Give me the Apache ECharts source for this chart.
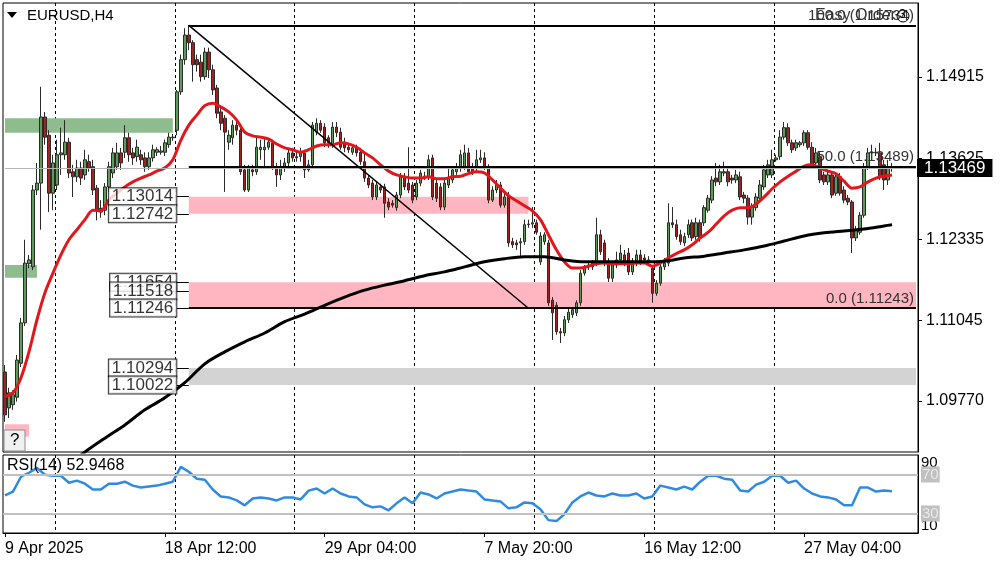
<!DOCTYPE html>
<html>
<head>
<meta charset="utf-8">
<title>EURUSD,H4</title>
<script src="https://cdn.jsdelivr.net/npm/echarts@6/dist/echarts.min.js"></script>
<style>
  html, body { margin: 0; padding: 0; background: #fff; }
  #chart { width: 1000px; height: 562px; }
</style>
</head>
<body>
<div id="chart"></div>
<script>
// H4 bars: [open, close, low, high]
const candles = [
  [1.1023,1.0955,1.0944,1.1034],[1.0966,1.0990,1.0950,1.0998],[1.0971,1.0987,1.0963,1.0994],[1.0983,1.1042,1.0976,1.1050],
  [1.1037,1.1101,1.1031,1.1109],[1.1101,1.1196,1.1096,1.1233],[1.1195,1.1201,1.1188,1.1209],[1.1190,1.1312,1.1185,1.1320],
  [1.1312,1.1323,1.1304,1.1355],[1.1323,1.1428,1.1249,1.1476],[1.1428,1.1396,1.1384,1.1436],[1.1399,1.1307,1.1277,1.1407],
  [1.1307,1.1355,1.1280,1.1368],[1.1320,1.1368,1.1312,1.1392],[1.1368,1.1371,1.1336,1.1411],[1.1368,1.1388,1.1360,1.1423],
  [1.1388,1.1339,1.1331,1.1395],[1.1341,1.1333,1.1301,1.1352],[1.1333,1.1347,1.1325,1.1360],[1.1347,1.1331,1.1320,1.1357],
  [1.1336,1.1360,1.1328,1.1376],[1.1357,1.1347,1.1341,1.1368],[1.1349,1.1312,1.1304,1.1360],[1.1315,1.1280,1.1264,1.1320],
  [1.1283,1.1277,1.1268,1.1296],[1.1280,1.1317,1.1272,1.1323],[1.1317,1.1349,1.1309,1.1357],[1.1339,1.1371,1.1331,1.1379],
  [1.1349,1.1371,1.1344,1.1387],[1.1371,1.1355,1.1344,1.1379],[1.1372,1.1395,1.1363,1.1415],[1.1395,1.1368,1.1357,1.1403],
  [1.1371,1.1363,1.1352,1.1379],[1.1365,1.1380,1.1357,1.1392],[1.1368,1.1360,1.1352,1.1376],[1.1363,1.1349,1.1341,1.1372],
  [1.1349,1.1363,1.1344,1.1372],[1.1363,1.1376,1.1357,1.1384],[1.1372,1.1376,1.1366,1.1380],[1.1372,1.1374,1.1368,1.1382],
  [1.1372,1.1387,1.1366,1.1392],[1.1384,1.1396,1.1379,1.1403],[1.1395,1.1396,1.1390,1.1401],[1.1407,1.1468,1.1399,1.1471],
  [1.1468,1.1519,1.1463,1.1527],[1.1519,1.1558,1.1511,1.1569],[1.1558,1.1546,1.1534,1.1574],[1.1546,1.1511,1.1484,1.1550],
  [1.1519,1.1511,1.1500,1.1527],[1.1515,1.1492,1.1484,1.1527],[1.1492,1.1531,1.1487,1.1538],[1.1531,1.1503,1.1490,1.1538],
  [1.1503,1.1471,1.1463,1.1511],[1.1474,1.1434,1.1426,1.1479],[1.1436,1.1418,1.1407,1.1442],[1.1426,1.1404,1.1309,1.1431],
  [1.1388,1.1399,1.1376,1.1407],[1.1395,1.1415,1.1384,1.1423],[1.1415,1.1407,1.1399,1.1426],[1.1407,1.1341,1.1336,1.1412],
  [1.1344,1.1312,1.1309,1.1352],[1.1312,1.1347,1.1309,1.1352],[1.1344,1.1341,1.1334,1.1352],[1.1341,1.1380,1.1336,1.1395],
  [1.1376,1.1380,1.1360,1.1392],[1.1376,1.1380,1.1349,1.1396],[1.1380,1.1388,1.1376,1.1395],[1.1387,1.1349,1.1344,1.1392],
  [1.1349,1.1336,1.1317,1.1355],[1.1336,1.1349,1.1328,1.1360],[1.1347,1.1355,1.1341,1.1363],[1.1355,1.1371,1.1349,1.1379],
  [1.1371,1.1363,1.1357,1.1379],[1.1365,1.1363,1.1357,1.1372],[1.1365,1.1372,1.1357,1.1379],[1.1371,1.1344,1.1331,1.1376],
  [1.1344,1.1352,1.1341,1.1360],[1.1352,1.1415,1.1347,1.1420],[1.1404,1.1418,1.1399,1.1426],[1.1418,1.1407,1.1403,1.1423],
  [1.1412,1.1387,1.1380,1.1418],[1.1395,1.1387,1.1379,1.1399],[1.1384,1.1412,1.1379,1.1420],[1.1412,1.1403,1.1396,1.1420],
  [1.1404,1.1380,1.1376,1.1411],[1.1388,1.1379,1.1372,1.1395],[1.1380,1.1376,1.1371,1.1387],[1.1372,1.1379,1.1368,1.1384],
  [1.1379,1.1371,1.1365,1.1384],[1.1372,1.1357,1.1352,1.1379],[1.1357,1.1331,1.1325,1.1372],[1.1331,1.1320,1.1315,1.1336],
  [1.1323,1.1301,1.1296,1.1328],[1.1301,1.1320,1.1296,1.1325],[1.1317,1.1312,1.1307,1.1322],[1.1317,1.1291,1.1268,1.1322],
  [1.1293,1.1285,1.1280,1.1299],[1.1291,1.1288,1.1284,1.1296],[1.1284,1.1304,1.1279,1.1309],[1.1304,1.1333,1.1299,1.1339],
  [1.1333,1.1317,1.1312,1.1339],[1.1323,1.1312,1.1307,1.1380],[1.1320,1.1296,1.1291,1.1325],[1.1301,1.1323,1.1296,1.1328],
  [1.1323,1.1339,1.1318,1.1344],[1.1333,1.1334,1.1328,1.1341],[1.1333,1.1360,1.1328,1.1368],[1.1363,1.1301,1.1296,1.1368],
  [1.1323,1.1299,1.1293,1.1328],[1.1317,1.1285,1.1280,1.1323],[1.1285,1.1323,1.1280,1.1328],[1.1320,1.1331,1.1315,1.1347],
  [1.1328,1.1344,1.1323,1.1349],[1.1341,1.1349,1.1336,1.1355],[1.1347,1.1368,1.1341,1.1376],[1.1349,1.1371,1.1344,1.1384],
  [1.1371,1.1341,1.1336,1.1379],[1.1349,1.1341,1.1336,1.1355],[1.1347,1.1360,1.1341,1.1376],[1.1360,1.1363,1.1355,1.1376],
  [1.1363,1.1349,1.1344,1.1372],[1.1349,1.1296,1.1291,1.1353],[1.1296,1.1312,1.1293,1.1318],[1.1312,1.1320,1.1307,1.1328],
  [1.1320,1.1288,1.1284,1.1325],[1.1288,1.1301,1.1284,1.1307],[1.1304,1.1228,1.1222,1.1309],[1.1230,1.1225,1.1220,1.1236],
  [1.1228,1.1225,1.1217,1.1233],[1.1228,1.1230,1.1206,1.1236],[1.1230,1.1257,1.1225,1.1265],[1.1257,1.1258,1.1252,1.1265],
  [1.1258,1.1260,1.1252,1.1285],[1.1260,1.1245,1.1241,1.1265],[1.1198,1.1239,1.1193,1.1245],[1.1230,1.1241,1.1225,1.1245],
  [1.1228,1.1133,1.1128,1.1233],[1.1137,1.1117,1.1074,1.1142],[1.1129,1.1087,1.1082,1.1134],[1.1087,1.1085,1.1069,1.1093],
  [1.1085,1.1106,1.1080,1.1112],[1.1106,1.1118,1.1101,1.1125],[1.1114,1.1122,1.1109,1.1126],[1.1117,1.1133,1.1112,1.1137],
  [1.1133,1.1180,1.1128,1.1185],[1.1180,1.1188,1.1176,1.1193],[1.1190,1.1193,1.1185,1.1198],[1.1190,1.1196,1.1185,1.1201],
  [1.1196,1.1241,1.1191,1.1268],[1.1241,1.1214,1.1209,1.1249],[1.1228,1.1196,1.1191,1.1233],[1.1196,1.1172,1.1166,1.1204],
  [1.1172,1.1193,1.1166,1.1198],[1.1193,1.1201,1.1188,1.1214],[1.1201,1.1212,1.1196,1.1225],[1.1209,1.1196,1.1191,1.1217],
  [1.1212,1.1182,1.1177,1.1220],[1.1182,1.1196,1.1177,1.1204],[1.1196,1.1209,1.1191,1.1217],[1.1209,1.1198,1.1193,1.1217],
  [1.1204,1.1201,1.1196,1.1210],[1.1201,1.1198,1.1193,1.1207],[1.1188,1.1148,1.1133,1.1193],[1.1148,1.1164,1.1144,1.1169],
  [1.1164,1.1190,1.1160,1.1196],[1.1190,1.1196,1.1185,1.1204],[1.1196,1.1260,1.1191,1.1291],[1.1260,1.1257,1.1252,1.1285],
  [1.1257,1.1238,1.1233,1.1265],[1.1241,1.1230,1.1225,1.1249],[1.1228,1.1238,1.1223,1.1244],[1.1241,1.1257,1.1236,1.1265],
  [1.1260,1.1236,1.1231,1.1265],[1.1238,1.1260,1.1233,1.1268],[1.1260,1.1236,1.1230,1.1265],[1.1260,1.1284,1.1255,1.1288],
  [1.1280,1.1299,1.1276,1.1304],[1.1296,1.1328,1.1291,1.1334],[1.1331,1.1325,1.1318,1.1355],[1.1325,1.1341,1.1320,1.1352],
  [1.1339,1.1341,1.1334,1.1357],[1.1341,1.1325,1.1318,1.1347],[1.1331,1.1328,1.1322,1.1336],[1.1328,1.1336,1.1323,1.1344],
  [1.1333,1.1301,1.1296,1.1341],[1.1304,1.1299,1.1291,1.1309],[1.1299,1.1269,1.1257,1.1304],[1.1269,1.1285,1.1257,1.1291],
  [1.1284,1.1301,1.1279,1.1307],[1.1299,1.1320,1.1295,1.1328],[1.1317,1.1344,1.1312,1.1352],[1.1336,1.1352,1.1331,1.1360],
  [1.1336,1.1360,1.1331,1.1376],[1.1360,1.1363,1.1357,1.1368],[1.1365,1.1396,1.1360,1.1407],[1.1396,1.1411,1.1392,1.1420],
  [1.1411,1.1387,1.1382,1.1418],[1.1387,1.1376,1.1371,1.1392],[1.1379,1.1387,1.1374,1.1392],[1.1384,1.1387,1.1380,1.1390],
  [1.1387,1.1403,1.1382,1.1407],[1.1403,1.1380,1.1376,1.1407],[1.1380,1.1352,1.1347,1.1388],[1.1355,1.1371,1.1350,1.1379],
  [1.1365,1.1328,1.1323,1.1372],[1.1336,1.1325,1.1320,1.1341],[1.1325,1.1336,1.1320,1.1341],[1.1336,1.1304,1.1299,1.1341],
  [1.1307,1.1333,1.1303,1.1339],[1.1333,1.1307,1.1303,1.1339],[1.1312,1.1296,1.1291,1.1318],[1.1299,1.1293,1.1288,1.1304],
  [1.1293,1.1236,1.1212,1.1296],[1.1236,1.1249,1.1231,1.1255],[1.1245,1.1272,1.1241,1.1277],[1.1272,1.1349,1.1268,1.1355],
  [1.1349,1.1371,1.1344,1.1379],[1.1371,1.1372,1.1368,1.1384],[1.1371,1.1372,1.1366,1.1379],[1.1371,1.1333,1.1328,1.1387],
  [1.1352,1.1328,1.1312,1.1360],[1.1328,1.1347,1.1320,1.1360],[1.1347,1.1347,1.1341,1.1355]
];

// bar slots on the time axis (the last few stay empty, like the chart shift)
const slotCount = 229;
const categories = Array.from({ length: slotCount }, (_, i) => String(i));

// red moving average, [bar, price]
const redMA = [
  [0,1.0984],[2,1.0990],[4,1.1014],[6,1.1055],[8,1.1106],[10,1.1149],[12,1.1180],[14,1.1209],[16,1.1233],[18,1.1249],
  [20,1.1265],[22,1.1280],[24,1.1279],[26,1.1296],[28,1.1307],[30,1.1317],[32,1.1325],[34,1.1331],[36,1.1336],[38,1.1342],
  [40,1.1347],[42,1.1360],[44,1.1391],[46,1.1415],[48,1.1431],[50,1.1446],[52,1.1450],[54,1.1444],[56,1.1436],[58,1.1423],
  [60,1.1404],[62,1.1398],[64,1.1396],[66,1.1393],[68,1.1385],[70,1.1379],[72,1.1376],[74,1.1372],[76,1.1376],[78,1.1382],
  [80,1.1384],[82,1.1384],[84,1.1387],[86,1.1385],[88,1.1380],[90,1.1371],[92,1.1363],[94,1.1352],[96,1.1342],[98,1.1336],
  [100,1.1333],[102,1.1331],[104,1.1331],[106,1.1333],[108,1.1330],[110,1.1330],[112,1.1333],[114,1.1334],[116,1.1338],[118,1.1341],
  [120,1.1339],[122,1.1328],[124,1.1315],[126,1.1303],[128,1.1295],[130,1.1287],[132,1.1279],[134,1.1265],[136,1.1241],[138,1.1217],
  [140,1.1198],[142,1.1188],[144,1.1188],[146,1.1191],[148,1.1195],[150,1.1196],[152,1.1195],[154,1.1195],[156,1.1195],[158,1.1196],
  [160,1.1196],[162,1.1191],[164,1.1196],[166,1.1204],[168,1.1211],[170,1.1217],[172,1.1225],[174,1.1236],[176,1.1245],[178,1.1258],
  [180,1.1271],[182,1.1280],[184,1.1284],[186,1.1284],[188,1.1290],[190,1.1301],[192,1.1314],[194,1.1325],[196,1.1334],[198,1.1342],
  [200,1.1350],[202,1.1352],[204,1.1347],[206,1.1342],[208,1.1338],[210,1.1326],[212,1.1315],[214,1.1317],[216,1.1325],[218,1.1331],
  [220,1.1334],[222,1.1336]
];

// black long moving average, [bar, price]
const blackMA = [
  [15,1.0871],[20,1.0896],[25,1.0918],[30,1.0939],[35,1.0963],[40,1.0982],[45,1.1006],[50,1.1036],[55,1.1055],[60,1.1071],
  [65,1.1085],[70,1.1103],[75,1.1115],[80,1.1129],[85,1.1142],[90,1.1153],[95,1.1161],[100,1.1168],[105,1.1176],[110,1.1182],
  [115,1.1190],[120,1.1198],[125,1.1203],[130,1.1206],[135,1.1206],[140,1.1201],[145,1.1198],[150,1.1198],[155,1.1198],[160,1.1198],
  [165,1.1199],[170,1.1204],[175,1.1207],[180,1.1212],[185,1.1217],[190,1.1223],[195,1.1231],[200,1.1239],[205,1.1244],[210,1.1247],
  [215,1.1250],[220,1.1255],[222,1.1257]
];

// RSI(14), [bar, value]
const rsi = [
  [0,48.5],[2,52.5],[4,67.7],[6,71.8],[8,76.8],[10,69.7],[12,68.7],[14,68.7],[16,61.6],[18,63.7],
  [20,60.6],[22,54.6],[24,54.6],[26,60.6],[28,60.6],[30,62.6],[32,58.6],[34,56.6],[36,57.6],[38,58.6],
  [40,60.6],[42,62.6],[44,77.8],[46,72.8],[48,65.7],[50,64.7],[52,54.6],[54,47.5],[56,46.5],[58,43.4],
  [60,38.4],[62,45.4],[64,46.5],[66,45.4],[68,43.4],[70,46.5],[72,46.5],[74,44.4],[76,53.5],[78,55.6],
  [80,50.5],[82,55.6],[84,50.5],[86,47.5],[88,46.5],[90,39.4],[92,36.3],[94,37.3],[96,33.3],[98,40.4],
  [100,46.5],[102,40.4],[104,51.5],[106,49.5],[108,45.4],[110,50.5],[112,52.5],[114,54.6],[116,53.5],[118,52.5],
  [120,44.4],[122,43.4],[124,42.4],[126,35.3],[128,36.3],[130,41.4],[132,40.4],[134,34.3],[136,23.2],[138,22.2],
  [140,29.2],[142,41.4],[144,47.5],[146,51.5],[148,48.5],[150,47.5],[152,50.5],[154,48.5],[156,48.5],[158,50.5],
  [160,45.4],[162,47.5],[164,58.6],[166,56.6],[168,54.6],[170,57.6],[172,54.6],[174,62.6],[176,68.7],[178,68.7],
  [180,65.7],[182,64.7],[184,53.5],[186,52.5],[188,59.6],[190,62.6],[192,68.7],[194,68.7],[196,61.6],[198,63.7],
  [200,55.6],[202,50.5],[204,47.5],[206,46.5],[208,44.4],[210,38.4],[212,38.4],[214,56.6],[216,56.6],[218,52.5],
  [220,53.5],[222,52.9]
];
const rsiLast = 52.9468;

// time axis labels and the dashed period separators (bar index)
const timeLabels = [[0,'9 Apr 2025'],[40,'18 Apr 12:00'],[80,'29 Apr 04:00'],[120,'7 May 20:00'],[160,'16 May 12:00'],[200,'27 May 04:00']];
const separatorBars = [13, 43, 73, 103, 133, 163, 193];

// price scale
const priceMin = 1.0896, priceMax = 1.1609;
const priceTicks = [1.09770, 1.11045, 1.12335, 1.13625, 1.14915];
const rsiBounds = [10, 90];
const rsiLevels = [70, 30];
const lastPrice = 1.13469;

// zones: [fromBar, toBar, top, bottom, kind]
const zones = [
  [0, 42, 1.14259, 1.14031, 'demand'],
  [0, 8, 1.11930, 1.11728, 'demand'],
  [0, 6, 1.09400, 1.09203, 'supply'],
  [46, 131, 1.13014, 1.12742, 'supply'],
  [46, 228, 1.11654, 1.11246, 'supply'],
  [46, 228, 1.10294, 1.10022, 'neutral']
];
const zoneLabels = [1.13014, 1.12742, 1.11654, 1.11518, 1.11246, 1.10294, 1.10022];
const zoneLabelBar = 43, zoneStartBar = 46, lastSlot = 228;

// fibonacci levels: [level, price]
const fibLevels = [[100.0, 1.15734], [50.0, 1.13489], [0.0, 1.11243]];
const fibTrend = [[46, 1.15734], [131, 1.11243]];

const FONT = '"Liberation Sans", Arial, sans-serif';
const zoneColor = { demand: '#8fbc8f', supply: '#ffb6c1', neutral: '#d3d3d3' };
const labelMap = new Map(timeLabels);
const isLabelBar = (i) => labelMap.has(i);

const chart = echarts.init(document.getElementById('chart'));

const sepLine = {
  show: true,
  interval: (i) => separatorBars.includes(i),
  lineStyle: { color: '#000', type: [3, 3], width: 1 }
};

const fibLines = fibLevels.map(([lvl, p]) => [
  {
    coord: [zoneStartBar, p],
    lineStyle: { color: '#000', width: 2, type: 'solid' },
    label: {
      show: true, position: 'insideEndTop', distance: 2,
      formatter: lvl.toFixed(1) + ' (' + p.toFixed(5) + ')',
      color: '#333', fontSize: 15, fontFamily: FONT
    }
  },
  { coord: [lastSlot, p] }
]);

const connectors = zoneLabels.map(p => [
  { coord: [zoneLabelBar, p], lineStyle: { color: '#000', width: 1, type: 'solid' }, label: { show: false } },
  { coord: [zoneStartBar, p] }
]);

// bid line across the whole chart with its price tag on the axis
const bidLine = [
  {
    coord: [0, lastPrice],
    lineStyle: { color: '#b4b4b4', width: 1, type: 'solid' },
    label: {
      show: true, position: 'end', distance: 1, formatter: lastPrice.toFixed(5),
      backgroundColor: '#000', color: '#fff', fontSize: 17, padding: [1, 7, 0, 7], fontFamily: FONT
    }
  },
  { coord: [lastSlot, lastPrice] }
];

const rsiAxisBase = {
  type: 'value', gridIndex: 1, position: 'right', min: 10, max: 90,
  axisTick: { show: false }, splitLine: { show: false }
};

const option = {
  animation: false,
  backgroundColor: '#fff',
  textStyle: { fontFamily: FONT },
  grid: [
    { left: 3, right: 82, top: 3, height: 449, show: true, borderColor: '#000', borderWidth: 1, outerBoundsMode: 'none' },
    { left: 3, right: 82, top: 455, height: 78, show: true, borderColor: '#000', borderWidth: 1, outerBoundsMode: 'none' }
  ],
  xAxis: [
    {
      type: 'category', gridIndex: 0, data: categories, boundaryGap: true,
      axisLine: { show: false }, axisTick: { show: false }, axisLabel: { show: false },
      splitLine: sepLine
    },
    {
      type: 'category', gridIndex: 1, data: categories, boundaryGap: true,
      axisLine: { show: true, lineStyle: { color: '#000' } },
      axisTick: { show: true, interval: isLabelBar, alignWithLabel: true, length: 4, lineStyle: { color: '#000' } },
      axisLabel: {
        interval: isLabelBar,
        formatter: (v) => labelMap.get(Number(v)) || '',
        align: 'left', color: '#000', fontSize: 16, margin: 8, fontFamily: FONT
      },
      splitLine: sepLine
    }
  ],
  yAxis: [
    {
      type: 'value', gridIndex: 0, position: 'right', min: priceMin, max: priceMax,
      axisLine: { show: true, lineStyle: { color: '#000' } },
      axisTick: { show: true, customValues: priceTicks, length: 4, lineStyle: { color: '#000' } },
      axisLabel: { customValues: priceTicks, formatter: (v) => v.toFixed(5), color: '#000', fontSize: 16, margin: 8, fontFamily: FONT },
      splitLine: { show: false }
    },
    Object.assign({}, rsiAxisBase, {
      axisLine: { show: true, lineStyle: { color: '#000' } },
      axisLabel: {
        customValues: rsiBounds, margin: 3, fontSize: 15, color: '#000', fontFamily: FONT,
        showMinLabel: true, showMaxLabel: true,
        verticalAlignMinLabel: 'bottom', verticalAlignMaxLabel: 'top'
      }
    }),
    Object.assign({}, rsiAxisBase, {
      axisLine: { show: false },
      axisLabel: {
        customValues: rsiLevels, margin: 3, fontSize: 15, fontFamily: FONT,
        color: '#e8e8e8', backgroundColor: '#c0c0c0', padding: [1, 1, 0, 1]
      }
    })
  ],
  series: [
    {
      name: 'zones', type: 'line', xAxisIndex: 0, yAxisIndex: 0, data: [], z: 1, silent: true,
      markArea: {
        silent: true,
        data: zones.map(z => [
          { xAxis: z[0], yAxis: z[2], itemStyle: { color: zoneColor[z[4]] } },
          { xAxis: z[1], yAxis: z[3] }
        ])
      }
    },
    {
      name: 'EURUSD', type: 'candlestick', xAxisIndex: 0, yAxisIndex: 0, data: candles, z: 2,
      barWidth: 3,
      itemStyle: { color: '#5f9a5b', color0: '#9b2424', borderColor: '#2a2a2a', borderColor0: '#2a2a2a', borderWidth: 1 }
    },
    {
      name: 'MA red', type: 'line', xAxisIndex: 0, yAxisIndex: 0, data: redMA, z: 3,
      showSymbol: false, smooth: 0.3, lineStyle: { color: '#e3161c', width: 3 }
    },
    {
      name: 'MA black', type: 'line', xAxisIndex: 0, yAxisIndex: 0, data: blackMA, z: 3,
      showSymbol: false, smooth: 0.3, lineStyle: { color: '#000', width: 3 }
    },
    {
      name: 'objects', type: 'line', xAxisIndex: 0, yAxisIndex: 0, data: [], z: 4, silent: true,
      markLine: {
        silent: true, symbol: ['none', 'none'],
        data: [
          bidLine,
          ...fibLines,
          [
            { coord: fibTrend[0], lineStyle: { color: '#000', width: 1.5, type: 'solid' }, label: { show: false } },
            { coord: fibTrend[1] }
          ],
          ...connectors
        ]
      }
    },
    {
      name: 'zone labels', type: 'scatter', xAxisIndex: 0, yAxisIndex: 0, z: 5, silent: true,
      symbolSize: 1, itemStyle: { color: 'rgba(0,0,0,0)' },
      data: zoneLabels.map(p => [zoneLabelBar, p]),
      label: {
        show: true, position: 'left', distance: 0,
        formatter: (d) => d.value[1].toFixed(5),
        color: '#000', fontSize: 17, fontFamily: FONT, lineHeight: 16,
        backgroundColor: '#fff', borderColor: '#000', borderWidth: 1, padding: [1, 3, 0, 3]
      }
    },
    {
      name: 'RSI(14)', type: 'line', xAxisIndex: 1, yAxisIndex: 1, data: rsi, z: 3,
      showSymbol: false, lineStyle: { color: '#2f8be0', width: 2.5 },
      markLine: {
        silent: true, symbol: ['none', 'none'], label: { show: false },
        lineStyle: { color: '#c0c0c0', width: 2, type: 'solid' },
        data: rsiLevels.map(v => ({ yAxis: v }))
      }
    }
  ],
  graphic: [
    { type: 'polygon', shape: { points: [[7, 12], [17, 12], [12, 18]] }, style: { fill: '#000' }, z: 10 },
    { type: 'text', left: 27, top: 8, style: { text: 'EURUSD,H4', fontSize: 15, fontFamily: FONT, fill: '#000' }, z: 10 },
    { type: 'text', left: 7, top: 458, style: { text: 'RSI(14) ' + rsiLast.toFixed(4), fontSize: 16, fontFamily: FONT, fill: '#000' }, z: 10 },
    { type: 'text', left: 815, top: 8, style: { text: 'Easy Order', fontSize: 16, fontFamily: FONT, fill: '#333' }, z: 10 },
    { type: 'circle', shape: { cx: 903, cy: 16, r: 6 }, style: { fill: 'none', stroke: '#000', lineWidth: 1 }, z: 10 },
    { type: 'text', left: 899, top: 9, style: { text: '3', fontSize: 12, fontFamily: FONT, fill: '#000' }, z: 10 },
    { type: 'rect', shape: { x: 4, y: 430, width: 21, height: 21 }, style: { fill: '#f0f0f0', stroke: '#8c8c8c', lineWidth: 1 }, z: 10 },
    { type: 'text', left: 10, top: 432, style: { text: '?', fontSize: 17, fontFamily: FONT, fill: '#000' }, z: 11 }
  ]
};

chart.setOption(option);
</script>
</body>
</html>
